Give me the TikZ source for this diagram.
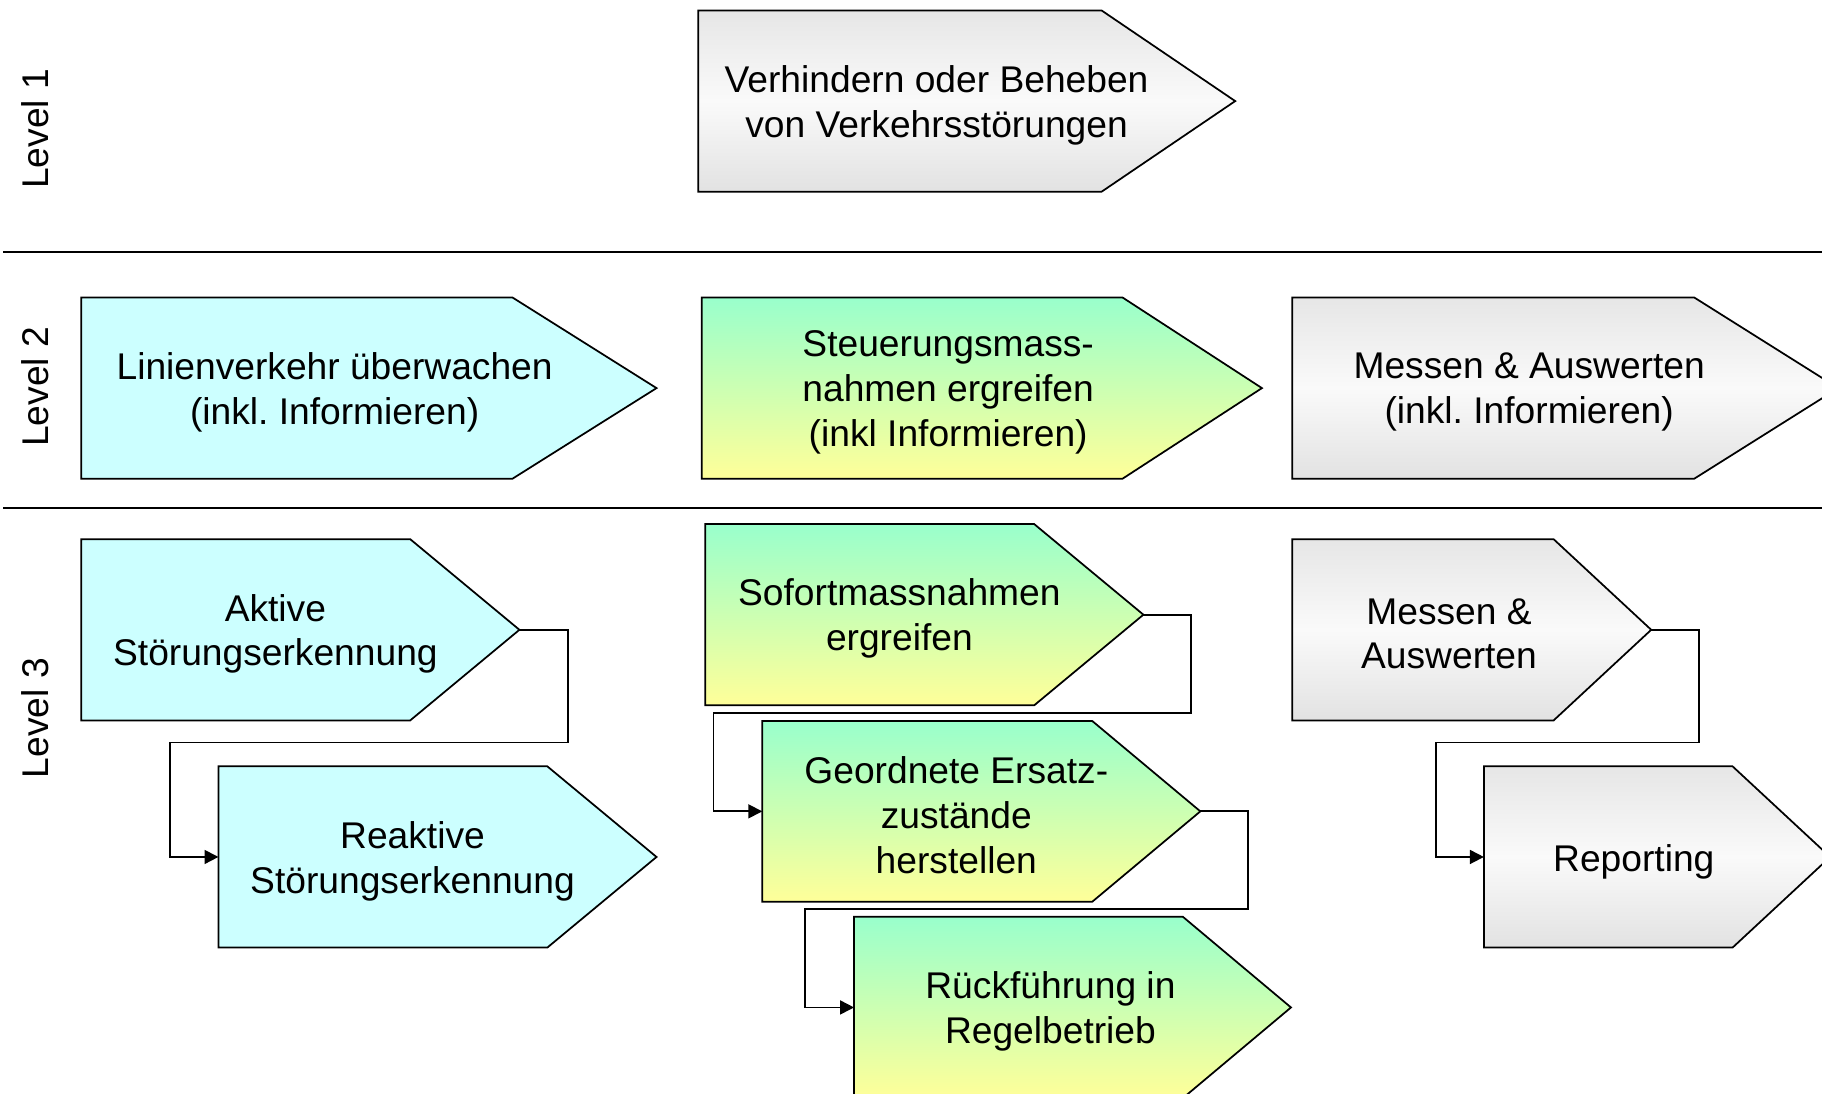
\documentclass[tikz,border=0pt]{standalone}
\usepackage{fontspec}
\setmainfont{Liberation Sans}
\frenchspacing
\usetikzlibrary{arrows.meta}
\definecolor{cyanbox}{HTML}{CCFFFF}
\definecolor{greentop}{HTML}{99FFCC}
\definecolor{yellowbot}{HTML}{FFFF99}
\definecolor{graytop}{HTML}{E6E6E6}
\definecolor{graymid}{HTML}{FAFAFA}
\definecolor{graybot}{HTML}{E2E2E2}
\tikzset{
  boxline/.style={draw=black, line width=1.5pt, line join=miter},
  cyanfill/.style={boxline, fill=cyanbox},
  greenfill/.style={boxline, top color=greentop, bottom color=yellowbot},
  grayfill/.style={boxline, top color=graytop, bottom color=graybot, middle color=graymid},
  label/.style={align=center, inner sep=0pt, yshift=-3.5pt, font=\fontsize{32}{38.6}\selectfont},
  lvl/.style={inner sep=0pt, rotate=90, font=\fontsize{32}{38.6}\selectfont},
  conn/.style={draw=black, line width=1.5pt, -{Triangle[length=12pt,width=12pt]}},
  sep/.style={draw=black, line width=1.8pt}
}
% #1 name, #2 style, #3 left x, #4 notch x, #5 tip x, #6 top y, #7 bottom y
\newcommand\chevbox[7]{%
  \path[#2] (#3,#6) -- (#4,#6) -- (#5,{(#6+#7)/2}) -- (#4,#7) -- (#3,#7) -- cycle;
  \coordinate (#1-tip) at (#5,{(#6+#7)/2});
  \coordinate (#1-in) at (#3,{(#6+#7)/2});
}
\begin{document}
\begin{tikzpicture}[x=1pt,y=-1pt]
\useasboundingbox (0,0) rectangle (1568,941);
\clip (0,0) rectangle (1568,941);

% level separators
\coordinate (sepA-l) at (3,216.5);
\coordinate (sepA-r) at (1568,216.5);
\coordinate (sepB-l) at (3,437.5);
\coordinate (sepB-r) at (1568,437.5);
\draw[sep] (sepA-l) -- (sepA-r);
\draw[sep] (sepB-l) -- (sepB-r);

% level labels
\node[lvl] (lv1) at (30,111) {Level 1};
\node[lvl] (lv2) at (30,333) {Level 2};
\node[lvl] (lv3) at (30,618) {Level 3};

% Level 1
\chevbox{top}{grayfill}{601}{948}{1063}{9}{165}
\node[label] (ttop) at (806,87) {Verhindern oder Beheben\\von Verkehrsstörungen};

% Level 2
\chevbox{lin}{cyanfill}{70}{441}{565}{256}{412}
\node[label] (tlin) at (288,334) {Linienverkehr überwachen\\(inkl. Informieren)};
\chevbox{steu}{greenfill}{604}{966}{1086}{256}{412}
\node[label] (tsteu) at (816,334) {Steuerungsmass-\\nahmen ergreifen\\(inkl Informieren)};
\chevbox{mess}{grayfill}{1112}{1458}{1582}{256}{412}
\node[label] (tmess) at (1316,334) {Messen \& Auswerten\\(inkl. Informieren)};

% Level 3 left column
\chevbox{akt}{cyanfill}{70}{353}{447}{464}{620}
\node[label] (takt) at (237,542) {Aktive\\Störungserkennung};
\chevbox{rea}{cyanfill}{188}{471}{565}{659.5}{815.5}
\node[label] (trea) at (355,738) {Reaktive\\Störungserkennung};
\draw[conn] (akt-tip) -- (489,542) -- (489,639) -- (146,639) |- (rea-in);

% Level 3 middle column
\chevbox{sof}{greenfill}{607}{890}{984}{451}{607}
\node[label] (tsof) at (774,529) {Sofortmassnahmen\\ergreifen};
\chevbox{geo}{greenfill}{656}{940}{1033}{620.5}{776}
\node[label] (tgeo) at (823,698) {Geordnete Ersatz-\\zustände\\herstellen};
\chevbox{rue}{greenfill}{735}{1018}{1111}{789}{945}
\node[label] (true) at (904,867) {Rückführung in\\Regelbetrieb};
\draw[conn] (sof-tip) -- (1025,529) -- (1025,613.5) -- (614,613.5) |- (geo-in);
\draw[conn] (geo-tip) -- (1074,698.25) -- (1074,782.5) -- (693,782.5) |- (rue-in);

% Level 3 right column
\chevbox{mes3}{grayfill}{1112}{1337}{1421}{464}{620}
\node[label] (tmes3) at (1247,542) {Messen \&\\Auswerten};
\chevbox{rep}{grayfill}{1277}{1491}{1575}{659.5}{815.5}
\node[label] (trep) at (1406,738) {Reporting};
\draw[conn] (mes3-tip) -- (1462,542) -- (1462,639) -- (1236,639) |- (rep-in);
\end{tikzpicture}
\end{document}
